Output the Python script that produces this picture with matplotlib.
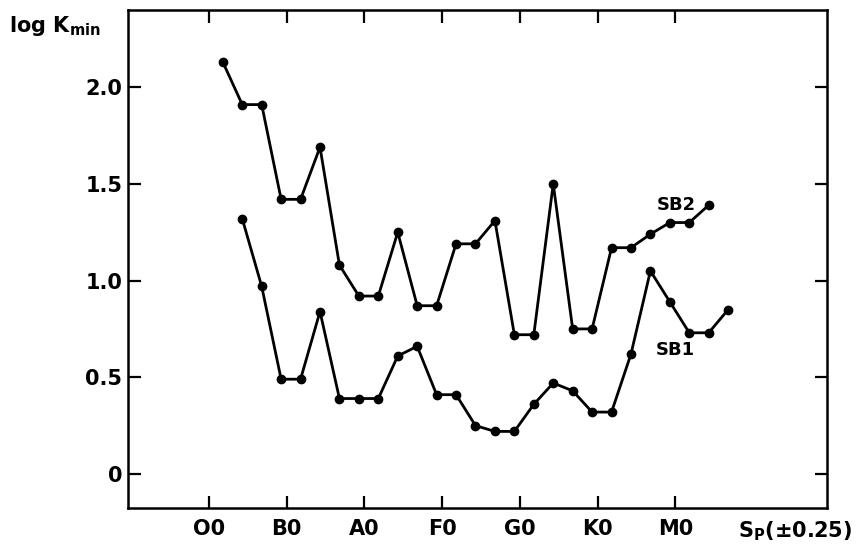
import matplotlib
matplotlib.use('Agg')
import matplotlib.pyplot as plt

plt.rcParams['font.family'] = ['DejaVu Sans']
plt.rcParams['font.weight'] = 'bold'
plt.rcParams['mathtext.fontset'] = 'dejavusans'
plt.rcParams['mathtext.default'] = 'bf'

# spectral classes on the x axis (class units, O0 = 0)
class_pos = [0, 1, 2, 3, 4, 5, 6]
class_labels = ['O0', 'B0', 'A0', 'F0', 'G0', 'K0', 'M0']

# SB2 values
sb2_x = [0.18, 0.43, 0.68, 0.93, 1.18, 1.43, 1.68, 1.93, 2.18, 2.43, 2.68, 2.93, 3.18,
         3.43, 3.68, 3.93, 4.18, 4.43, 4.68, 4.93, 5.18, 5.43, 5.68, 5.93, 6.18, 6.43]
sb2_y = [2.13, 1.91, 1.91, 1.42, 1.42, 1.69, 1.08, 0.92, 0.92, 1.25, 0.87, 0.87, 1.19,
         1.19, 1.31, 0.72, 0.72, 1.50, 0.75, 0.75, 1.17, 1.17, 1.24, 1.30, 1.30, 1.39]

# SB1 values
sb1_x = [0.43, 0.68, 0.93, 1.18, 1.43, 1.68, 1.93, 2.18, 2.43, 2.68, 2.93, 3.18, 3.43,
         3.68, 3.93, 4.18, 4.43, 4.68, 4.93, 5.18, 5.43, 5.68, 5.93, 6.18, 6.43, 6.68]
sb1_y = [1.32, 0.97, 0.49, 0.49, 0.84, 0.39, 0.39, 0.39, 0.61, 0.66, 0.41, 0.41, 0.25,
         0.22, 0.22, 0.36, 0.47, 0.43, 0.32, 0.32, 0.62, 1.05, 0.89, 0.73, 0.73, 0.85]

y_ticks = [0, 0.5, 1.0, 1.5, 2.0]
y_labels = ['0', '0.5', '1.0', '1.5', '2.0']

fig = plt.figure(figsize=(8.56, 5.46), dpi=100)
ax = fig.add_axes([0.1495, 0.0696, 0.8165, 0.9124])

ax.plot(sb2_x, sb2_y, 'k-', lw=2, marker='o', ms=6)
ax.plot(sb1_x, sb1_y, 'k-', lw=2, marker='o', ms=6)

ax.set_xlim(-1.04, 7.95)
ax.set_ylim(-0.176, 2.40)

ax.set_xticks(class_pos)
ax.set_xticklabels(class_labels, fontsize=15, fontweight='bold')
ax.set_yticks(y_ticks)
ax.set_yticklabels(y_labels, fontsize=15, fontweight='bold')

ax.tick_params(direction='in', length=9, width=1.6, top=True, right=True, pad=8)
ax.tick_params(axis='y', pad=4)
for s in ax.spines.values():
    s.set_linewidth(1.8)

ax.text(6.01, 1.39, 'SB2', fontsize=13, fontweight='bold', ha='center', va='center')
ax.text(6.0, 0.64, 'SB1', fontsize=13, fontweight='bold', ha='center', va='center')

fig.text(0.01, 0.952, r'log K$_{\mathbf{min}}$', fontsize=15, fontweight='bold',
         ha='left', va='center')
fig.text(0.995, 0.028, r'S$_{\mathbf{P}}$(±0.25)', fontsize=15, fontweight='bold',
         ha='right', va='center')

fig.savefig('out.png', dpi=100)
